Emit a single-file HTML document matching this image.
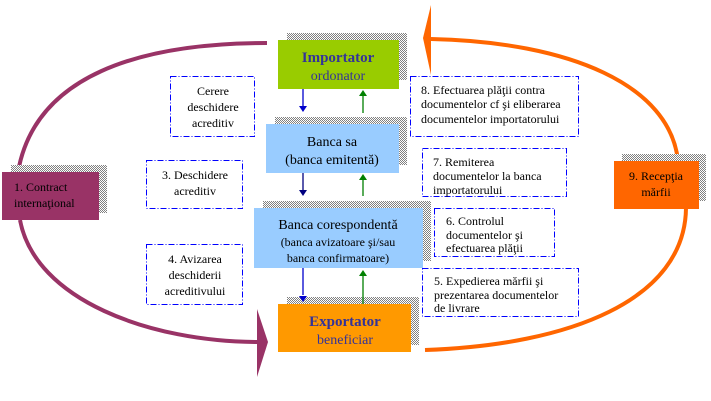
<!DOCTYPE html>
<html><head><meta charset="utf-8"><style>
html,body{margin:0;padding:0;background:#fff;}
svg{display:block;}
text{font-family:"Liberation Serif","Times New Roman","DejaVu Serif",serif;}
</style></head><body>
<svg width="711" height="401" viewBox="0 0 711 401" xmlns="http://www.w3.org/2000/svg" font-family="Liberation Serif, serif">
<defs>
<pattern id="ck" width="2" height="2" patternUnits="userSpaceOnUse">
<rect width="2" height="2" fill="#fff"/><rect width="1" height="1" fill="#808080"/><rect x="1" y="1" width="1" height="1" fill="#808080"/>
</pattern>
</defs>
<path d="M267,43 C140,43 35,75 18,172" fill="none" stroke="#993366" stroke-width="4"/>
<path d="M20,220 C35,300 150,342 259,342" fill="none" stroke="#993366" stroke-width="4"/>
<polygon points="257,309 268,342 257,377" fill="#993366"/>
<path d="M431,39 C570,42 670,85 678,161" fill="none" stroke="#ff6600" stroke-width="4"/>
<path d="M425,350 C570,345 685,300 686,208" fill="none" stroke="#ff6600" stroke-width="4"/>
<polygon points="431,5 423,38 431,75" fill="#ff6600"/>
<rect x="287" y="33" width="120" height="47" fill="url(#ck)"/>
<rect x="275" y="117" width="132" height="48" fill="url(#ck)"/>
<rect x="263" y="201" width="168" height="60" fill="url(#ck)"/>
<rect x="287" y="297" width="132" height="48" fill="url(#ck)"/>
<rect x="11" y="165" width="96" height="48" fill="url(#ck)"/>
<rect x="622" y="154" width="84" height="47" fill="url(#ck)"/>
<rect x="278" y="40" width="121" height="49" fill="#99cc00"/>
<text x="338" y="62" text-anchor="middle" font-size="15" font-weight="bold" fill="#333399">Importator</text>
<text x="338" y="80" text-anchor="middle" font-size="14" fill="#333399">ordonator</text>
<rect x="266" y="124" width="133" height="49" fill="#99ccff"/>
<text x="332" y="146" text-anchor="middle" font-size="14" fill="#000">Banca sa</text>
<text x="332" y="164" text-anchor="middle" font-size="14" fill="#000">(banca emitentă)</text>
<rect x="254" y="208" width="169" height="60" fill="#99ccff"/>
<text x="338" y="229" text-anchor="middle" font-size="14" fill="#000">Banca corespondentă</text>
<text x="338" y="246" text-anchor="middle" font-size="12" fill="#000">(banca avizatoare şi/sau</text>
<text x="338" y="262" text-anchor="middle" font-size="12" fill="#000">banca confirmatoare)</text>
<rect x="278" y="304" width="133" height="48" fill="#ff9900"/>
<text x="345" y="326" text-anchor="middle" font-size="15" font-weight="bold" fill="#333399">Exportator</text>
<text x="345" y="344" text-anchor="middle" font-size="14" fill="#333399">beneficiar</text>
<rect x="2" y="172" width="97" height="48" fill="#993366"/>
<text x="14" y="191" font-size="12" fill="#000">1. Contract</text>
<text x="14" y="207" font-size="12" fill="#000">internaţional</text>
<rect x="614" y="161" width="85" height="48" fill="#ff6600"/>
<text x="656" y="180" text-anchor="middle" font-size="12" fill="#000">9. Recepţia</text>
<text x="656" y="196" text-anchor="middle" font-size="12" fill="#000">mărfii</text>
<g stroke-width="1.3">
<line x1="303" y1="89" x2="303" y2="107" stroke="#0000cc"/><polygon points="299,106 307,106 303,112" fill="#0000cc"/>
<line x1="303" y1="173" x2="303" y2="191" stroke="#000080"/><polygon points="299,190 307,190 303,196" fill="#000080"/>
<line x1="303" y1="268" x2="303" y2="295" stroke="#0000cc"/><polygon points="299,296 307,296 303,302" fill="#0000cc"/>
<line x1="363" y1="95" x2="363" y2="113" stroke="#008000"/><polygon points="359,96 367,96 363,90" fill="#008000"/>
<line x1="363" y1="179" x2="363" y2="196" stroke="#008000"/><polygon points="359,180 367,180 363,174" fill="#008000"/>
<line x1="363" y1="275" x2="363" y2="304" stroke="#008000"/><polygon points="359,276 367,276 363,270" fill="#008000"/>
</g>
<g fill="#fff" stroke="#0000ff" stroke-width="1" stroke-dasharray="6,2,1,2">
<rect x="170.5" y="76.5" width="84" height="60"/>
<rect x="146.5" y="160.5" width="96" height="48"/>
<rect x="146.5" y="244.5" width="96" height="60"/>
<rect x="410.5" y="76.5" width="168" height="60"/>
<rect x="422.5" y="148.5" width="144" height="48"/>
<rect x="434.5" y="208.5" width="120" height="48"/>
<rect x="422.5" y="268.5" width="156" height="48"/>
</g>
<g font-size="12" fill="#000">
<text x="213" y="95" text-anchor="middle">Cerere</text>
<text x="213" y="111" text-anchor="middle">deschidere</text>
<text x="213" y="127" text-anchor="middle">acreditiv</text>
<text x="195" y="179" text-anchor="middle">3. Deschidere</text>
<text x="195" y="195" text-anchor="middle">acreditiv</text>
<text x="195" y="263" text-anchor="middle">4. Avizarea</text>
<text x="195" y="279" text-anchor="middle">deschiderii</text>
<text x="195" y="295" text-anchor="middle">acreditivului</text>
<text x="421" y="94">8. Efectuarea plăţii contra</text>
<text x="421" y="108">documentelor cf şi eliberarea</text>
<text x="421" y="123">documentelor importatorului</text>
<text x="433" y="166">7. Remiterea</text>
<text x="433" y="180">documentelor la banca</text>
<text x="433" y="194">importatorului</text>
<text x="446" y="225">6. Controlul</text>
<text x="446" y="239">documentelor şi</text>
<text x="446" y="252">efectuarea plăţii</text>
<text x="434" y="285">5. Expedierea mărfii şi</text>
<text x="434" y="299">prezentarea documentelor</text>
<text x="434" y="312">de livrare</text>
</g>
</svg>
</body></html>
